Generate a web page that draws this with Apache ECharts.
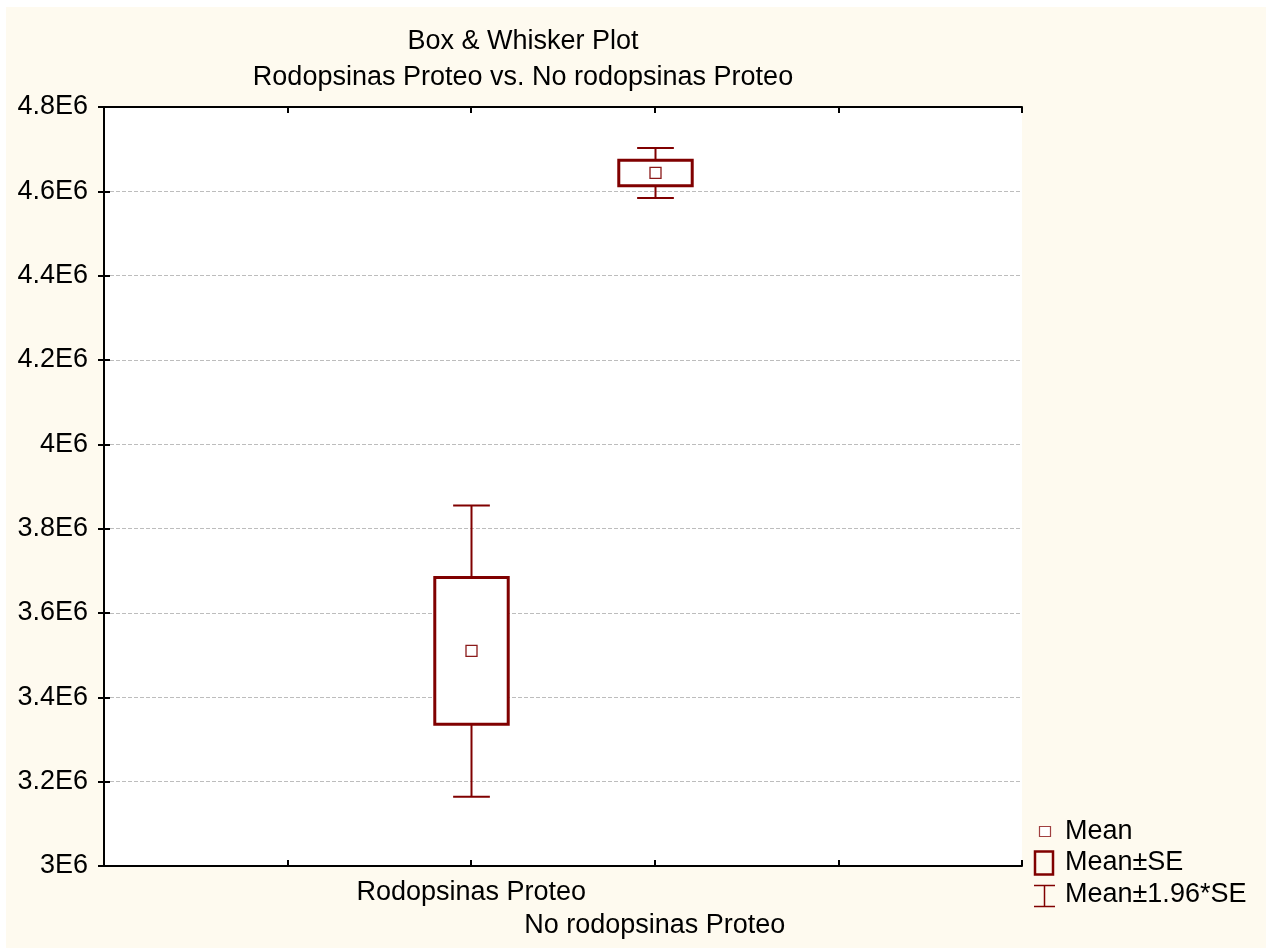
<!DOCTYPE html>
<html>
<head>
<meta charset="utf-8">
<script src="https://cdn.jsdelivr.net/npm/echarts@6/dist/echarts.min.js"></script>
<style>
html,body{margin:0;padding:0;background:#ffffff;}
#chart{width:1266px;height:948px;}
</style>
</head>
<body>
<div id="chart"></div>
<script>
// ---- data ----
var categories = ['Rodopsinas Proteo', 'No rodopsinas Proteo'];
var categoryPositions = [2, 3];
var means = [3.510e6, 4.644e6];
var seLow = [3.336e6, 4.613e6];
var seHigh = [3.684e6, 4.674e6];
var ciLow = [3.164e6, 4.584e6];
var ciHigh = [3.855e6, 4.703e6];
var yTicks = [3.0e6, 3.2e6, 3.4e6, 3.6e6, 3.8e6, 4.0e6, 4.2e6, 4.4e6, 4.6e6, 4.8e6];
var yTickLabels = ['3E6', '3.2E6', '3.4E6', '3.6E6', '3.8E6', '4E6', '4.2E6', '4.4E6', '4.6E6', '4.8E6'];
var titleLines = ['Box & Whisker Plot', 'Rodopsinas Proteo vs. No rodopsinas Proteo'];
var legendNames = ['Mean', 'Mean\u00b1SE', 'Mean\u00b11.96*SE'];

var RED = '#800000';
var FONT = '"Liberation Sans", Arial, sans-serif';

var seriesData = categoryPositions.map(function (p, i) {
  return [p, means[i], seLow[i], seHigh[i], ciLow[i], ciHigh[i]];
});

function renderItem(params, api) {
  var x = api.value(0);
  var pMean = api.coord([x, api.value(1)]);
  var pSeL = api.coord([x, api.value(2)]);
  var pSeH = api.coord([x, api.value(3)]);
  var pCiL = api.coord([x, api.value(4)]);
  var pCiH = api.coord([x, api.value(5)]);
  var boxW = api.size([0.40, 0])[0];
  var capW = api.size([0.20, 0])[0];
  var cx = Math.round(pMean[0]) + 0.5;
  var ms = 11;
  var children = [
    {type: 'line', shape: {x1: cx, y1: pSeH[1], x2: cx, y2: pCiH[1]}, style: {stroke: RED, lineWidth: 2}},
    {type: 'line', shape: {x1: cx, y1: pSeL[1], x2: cx, y2: pCiL[1]}, style: {stroke: RED, lineWidth: 2}},
    {type: 'line', shape: {x1: cx - capW / 2, y1: pCiH[1], x2: cx + capW / 2, y2: pCiH[1]}, style: {stroke: RED, lineWidth: 2}},
    {type: 'line', shape: {x1: cx - capW / 2, y1: pCiL[1], x2: cx + capW / 2, y2: pCiL[1]}, style: {stroke: RED, lineWidth: 2}},
    {type: 'rect', shape: {x: cx - boxW / 2, y: pSeH[1], width: boxW, height: pSeL[1] - pSeH[1]}, style: {stroke: RED, lineWidth: 3, fill: '#ffffff'}},
    {type: 'rect', shape: {x: cx - ms / 2, y: pMean[1] - ms / 2, width: ms, height: ms}, style: {stroke: '#8b1a1a', lineWidth: 1.3, fill: '#ffffff'}}
  ];
  return {type: 'group', children: children};
}

var chart = echarts.init(document.getElementById('chart'), null, {renderer: 'canvas'});

var legendGraphics = [];
var ly = [832, 863, 895];
legendGraphics.push({type: 'rect', shape: {x: 1039.5, y: 826.5, width: 11, height: 10}, style: {stroke: '#a04040', lineWidth: 1.2, fill: '#ffffff'}});
legendGraphics.push({type: 'rect', shape: {x: 1035, y: 851.5, width: 18, height: 23}, style: {stroke: RED, lineWidth: 2.5, fill: '#fefaef'}});
legendGraphics.push({type: 'line', shape: {x1: 1044.5, y1: 885, x2: 1044.5, y2: 906}, style: {stroke: RED, lineWidth: 1.5}});
legendGraphics.push({type: 'line', shape: {x1: 1034, y1: 885.5, x2: 1055, y2: 885.5}, style: {stroke: RED, lineWidth: 1.5}});
legendGraphics.push({type: 'line', shape: {x1: 1034, y1: 906.5, x2: 1055, y2: 906.5}, style: {stroke: RED, lineWidth: 1.5}});
legendNames.forEach(function (n, i) {
  legendGraphics.push({type: 'text', x: 1065, y: ly[i], style: {text: n, font: '27px ' + FONT, fill: '#000', textVerticalAlign: 'middle', verticalAlign: 'middle'}});
});

var option = {
  backgroundColor: '#ffffff',
  animation: false,
  graphic: [
    {type: 'rect', z: -10, silent: true, shape: {x: 6, y: 7, width: 1266, height: 948}, style: {fill: '#fefaef'}},
    {type: 'text', x: 523, y: 42, style: {text: titleLines[0], font: '27px ' + FONT, fill: '#000', textAlign: 'center', textVerticalAlign: 'middle', align: 'center', verticalAlign: 'middle'}},
    {type: 'text', x: 523, y: 78, style: {text: titleLines[1], font: '27px ' + FONT, fill: '#000', textAlign: 'center', textVerticalAlign: 'middle', align: 'center', verticalAlign: 'middle'}}
  ].concat(legendGraphics),
  grid: {left: 104, right: 244, top: 107, bottom: 82, outerBoundsMode: 'none', containLabel: false, show: true, backgroundColor: '#ffffff', borderColor: '#000', borderWidth: 0},
  xAxis: [
    {type: 'value', min: 0, max: 5, interval: 1, position: 'bottom',
      axisLine: {show: true, lineStyle: {color: '#000', width: 2}},
      axisTick: {show: true, inside: true, length: 6, lineStyle: {color: '#000', width: 2}},
      splitLine: {show: false},
      axisLabel: {show: true, margin: 10, fontFamily: FONT, fontSize: 27, color: '#000', lineHeight: 33,
        formatter: function (v) {
          var idx = categoryPositions.indexOf(v);
          if (idx < 0) return '';
          return idx % 2 === 1 ? '\n' + categories[idx] : categories[idx];
        }}
    },
    {type: 'value', min: 0, max: 5, interval: 1, position: 'top',
      axisLine: {show: true, lineStyle: {color: '#000', width: 2}},
      axisTick: {show: true, inside: true, length: 6, lineStyle: {color: '#000', width: 2}},
      splitLine: {show: false}, axisLabel: {show: false}}
  ],
  yAxis: [
    {type: 'value', min: 3.0e6, max: 4.8e6, interval: 0.2e6, position: 'left',
      axisLine: {show: true, lineStyle: {color: '#000', width: 2}},
      axisTick: {show: true, inside: true, length: 6, lineStyle: {color: '#000', width: 2}},
      splitLine: {show: true, lineStyle: {color: '#bdbdbd', width: 1, type: [4, 2]}},
      axisLabel: {show: true, margin: 16, fontFamily: FONT, fontSize: 27, color: '#000',
        formatter: function (v) {
          var idx = -1;
          for (var i = 0; i < yTicks.length; i++) { if (Math.abs(yTicks[i] - v) < 1) idx = i; }
          return idx >= 0 ? yTickLabels[idx] : '';
        }}
    },
    {type: 'value', min: 3.0e6, max: 4.8e6, interval: 0.2e6, position: 'right',
      axisLine: {show: true, lineStyle: {color: '#000', width: 2}},
      axisTick: {show: true, inside: true, length: 6, lineStyle: {color: '#000', width: 2}},
      splitLine: {show: false}, axisLabel: {show: false}}
  ],
  series: [{
    type: 'custom',
    name: 'Box',
    xAxisIndex: 0,
    yAxisIndex: 0,
    renderItem: renderItem,
    encode: {x: 0, y: [1, 2, 3, 4, 5]},
    data: seriesData,
    clip: false,
    z: 5
  }]
};
chart.setOption(option);
</script>
</body>
</html>
